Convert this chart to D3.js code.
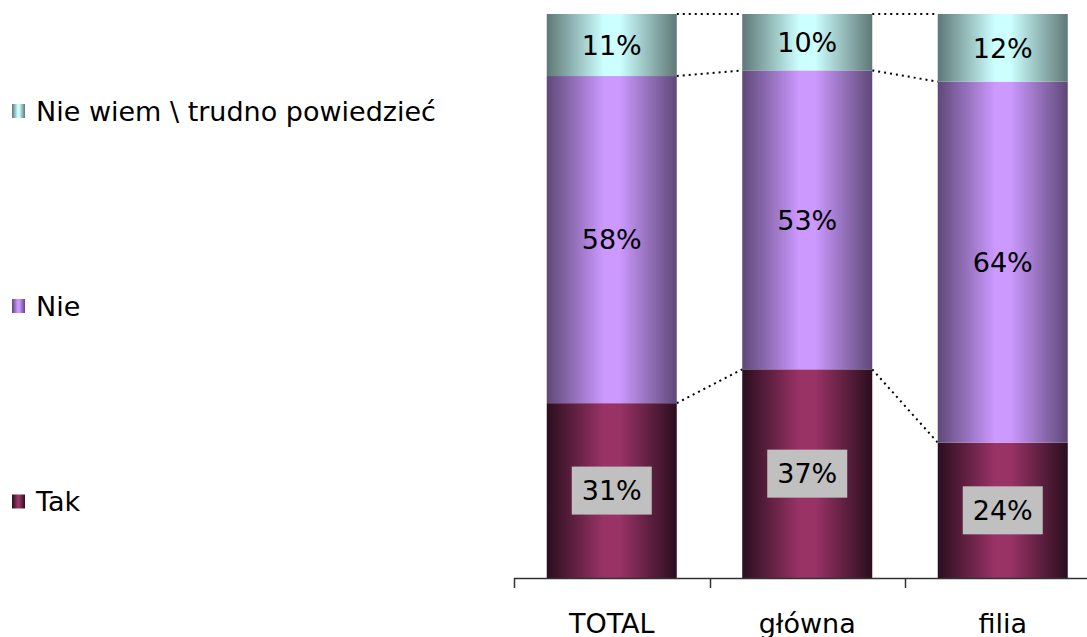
<!DOCTYPE html>
<html>
<head>
<meta charset="utf-8">
<script src="https://cdn.jsdelivr.net/npm/d3@7"></script>
<style>
  html, body { margin: 0; padding: 0; background: #fff; }
  svg { display: block; font-family: "DejaVu Sans", Verdana, sans-serif; }
</style>
</head>
<body>
<svg id="chart" width="1087" height="637"></svg>
<script>
// Categories and stacked shares (%) per answer
const categories = ["TOTAL", "główna", "filia"];
const seriesNames = ["Tak", "Nie", "Nie wiem \\ trudno powiedzieć"];
const tak = [31, 37, 24];
const nie = [58, 53, 64];
const nieWiem = [11, 10, 12];

const seriesValues = [tak, nie, nieWiem];
// Gradient colours per series: edge (dark) and centre (light)
const seriesColors = [
  { edge: "#2a0e1e", mid: "#993366" },
  { edge: "#5e4878", mid: "#cc99ff" },
  { edge: "#5e7876", mid: "#ccffff" }
];

const svg = d3.select("#chart");
const W = 1087, H = 637;
const plot = { left: 514, right: 1100.5, top: 14, bottom: 578 };

const x = d3.scaleBand().domain(categories).range([plot.left, plot.right]).paddingInner(0).paddingOuter(0);
const y = d3.scaleLinear().domain([0, 100]).range([plot.bottom, plot.top]);
const barW = x.bandwidth() * 0.665;

// Horizontal dark-light-dark gradients
const defs = svg.append("defs");
seriesColors.forEach((c, i) => {
  const g = defs.append("linearGradient").attr("id", "grad" + i)
    .attr("x1", "0%").attr("x2", "100%").attr("y1", "0%").attr("y2", "0%");
  g.append("stop").attr("offset", "0%").attr("stop-color", c.edge);
  g.append("stop").attr("offset", "44%").attr("stop-color", c.mid);
  g.append("stop").attr("offset", "56%").attr("stop-color", c.mid);
  g.append("stop").attr("offset", "100%").attr("stop-color", c.edge);
});

// Stack data
const rows = categories.map((cat, j) => {
  const r = { cat };
  seriesNames.forEach((s, i) => r[s] = seriesValues[i][j]);
  return r;
});
const stacked = d3.stack().keys(seriesNames)(rows);

// Series lines between neighbouring bars
const lineG = svg.append("g");
stacked.forEach(layer => {
  for (let j = 0; j < categories.length - 1; j++) {
    const a = layer[j], b = layer[j + 1];
    const xa = x(categories[j]) + (x.bandwidth() + barW) / 2;
    const xb = x(categories[j + 1]) + (x.bandwidth() - barW) / 2;
    lineG.append("line")
      .attr("x1", xa).attr("y1", y(a[1]))
      .attr("x2", xb).attr("y2", y(b[1]))
      .attr("stroke", "#000").attr("stroke-width", 2)
      .attr("stroke-dasharray", "2,4");
  }
});

// Bars
const barG = svg.append("g");
stacked.forEach((layer, i) => {
  barG.selectAll(null).data(layer).join("rect")
    .attr("x", (d, j) => x(categories[j]) + (x.bandwidth() - barW) / 2)
    .attr("y", d => y(d[1]))
    .attr("width", barW)
    .attr("height", d => y(d[0]) - y(d[1]))
    .attr("fill", "url(#grad" + i + ")");
});

// Value labels
const labG = svg.append("g");
stacked.forEach((layer, i) => {
  layer.forEach((d, j) => {
    const cx = x(categories[j]) + x.bandwidth() / 2;
    const cy = (y(d[0]) + y(d[1])) / 2;
    const v = seriesValues[i][j];
    if (i === 0) {
      labG.append("rect")
        .attr("x", cx - 40).attr("y", cy - 24)
        .attr("width", 80).attr("height", 48)
        .attr("fill", "#c0c0c0");
    }
    labG.append("text")
      .attr("x", cx).attr("y", cy)
      .attr("dy", "0.36em")
      .attr("text-anchor", "middle")
      .attr("font-size", 27)
      .attr("fill", "#000")
      .text(v + "%");
  });
});

// Category axis with ticks at band boundaries
const axG = svg.append("g");
axG.append("line")
  .attr("x1", plot.left).attr("x2", W)
  .attr("y1", plot.bottom + 0.5).attr("y2", plot.bottom + 0.5)
  .attr("stroke", "#333").attr("stroke-width", 1.5);
const tickXs = categories.map(c => x(c)).concat([plot.right]);
axG.selectAll(null).data(tickXs).join("line")
  .attr("x1", d => Math.round(d) + 0.5).attr("x2", d => Math.round(d) + 0.5)
  .attr("y1", plot.bottom).attr("y2", plot.bottom + 10)
  .attr("stroke", "#333").attr("stroke-width", 1.5);
axG.selectAll(null).data(categories).join("text")
  .attr("x", d => x(d) + x.bandwidth() / 2)
  .attr("y", 633)
  .attr("text-anchor", "middle")
  .attr("font-size", 27)
  .attr("fill", "#000")
  .text(d => d);

// Legend (top entry = last series)
const legendY = [501.5, 306, 111];
const legG = svg.append("g");
seriesNames.forEach((s, i) => {
  const g = legG.append("g").attr("transform", `translate(12,${legendY[i]})`);
  g.append("rect").attr("x", 0).attr("y", -7).attr("width", 13).attr("height", 14)
    .attr("fill", "url(#grad" + i + ")");
  g.append("text").attr("x", 24).attr("y", 0).attr("dy", "0.36em")
    .attr("font-size", 27).attr("fill", "#000").text(s);
});
</script>
</body>
</html>
